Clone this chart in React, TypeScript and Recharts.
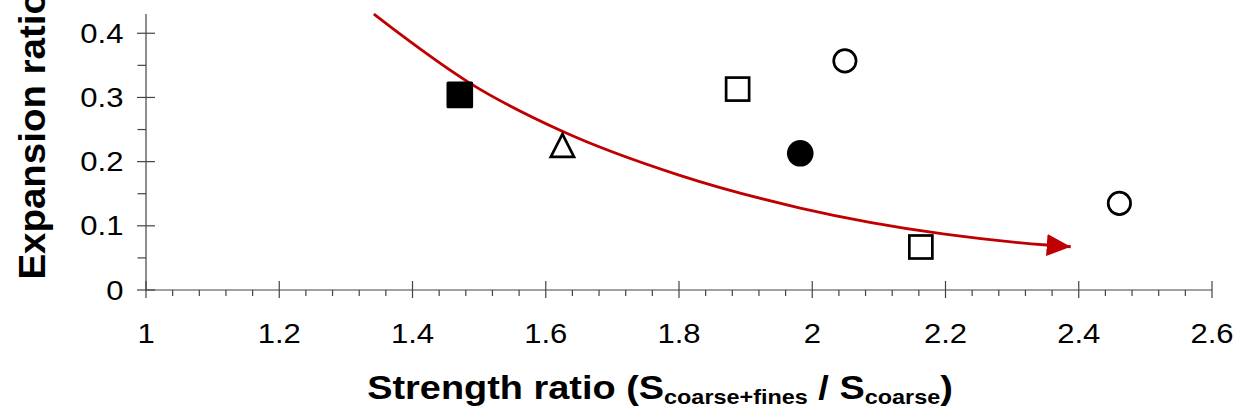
import React from "react";
import { ComposedChart, Scatter, Line, XAxis, YAxis } from "recharts";

// Scatter points
const pointX = [1.471, 1.625, 1.888, 1.982, 2.049, 2.163, 2.461];
const pointY = [0.304, 0.225, 0.313, 0.213, 0.357, 0.067, 0.135];
const pointShape = [
  "squareFilled",
  "triangleOpen",
  "squareOpen",
  "circleFilled",
  "circleOpen",
  "squareOpen",
  "circleOpen",
];

// Red trend curve
const curveX = [1.342, 1.381, 1.486, 1.624, 1.8, 1.982, 2.199, 2.352, 2.388];
const curveY = [0.43, 0.399, 0.3224, 0.2477, 0.179, 0.1277, 0.087, 0.0701, 0.0674];

// Axis ticks
const xMajorTicks = [1, 1.2, 1.4, 1.6, 1.8, 2, 2.2, 2.4, 2.6];
const xTickLabels = ["1", "1.2", "1.4", "1.6", "1.8", "2", "2.2", "2.4", "2.6"];
const xMinorTicks = [
  1.04, 1.08, 1.12, 1.16, 1.24, 1.28, 1.32, 1.36, 1.44, 1.48, 1.52, 1.56,
  1.64, 1.68, 1.72, 1.76, 1.84, 1.88, 1.92, 1.96, 2.04, 2.08, 2.12, 2.16,
  2.24, 2.28, 2.32, 2.36, 2.44, 2.48, 2.52, 2.56,
];
const yMajorTicks = [0, 0.1, 0.2, 0.3, 0.4];
const yTickLabels = ["0", "0.1", "0.2", "0.3", "0.4"];
const yMinorTicks = [0.05, 0.15, 0.25, 0.35];

const scatterData = pointX.map((x, i) => ({ x, y: pointY[i], kind: pointShape[i] }));
const curveData = curveX.map((x, i) => ({ x, y: curveY[i] }));

const FONT = "'Liberation Sans', Arial, Helvetica, sans-serif";
const AXIS_COLOR = "#444";
const RED = "#c00000";

const findIdx = (arr: number[], v: number) => arr.findIndex((t) => Math.abs(t - v) < 1e-6);

const XTick = (props: any) => {
  const { x, y, payload } = props;
  const idx = findIdx(xMajorTicks, payload.value);
  if (idx < 0) {
    return <line x1={x} x2={x} y1={y} y2={y + 6} stroke={AXIS_COLOR} strokeWidth={1.2} />;
  }
  return (
    <g>
      <line x1={x} x2={x} y1={y - 9} y2={y + 8} stroke={AXIS_COLOR} strokeWidth={1.2} />
      <text
        transform={`translate(${x},${y + 52.5}) scale(1.15,1)`}
        textAnchor="middle"
        fontSize={27}
        fontFamily={FONT}
        fill="#000"
      >
        {xTickLabels[idx]}
      </text>
    </g>
  );
};

const YTick = (props: any) => {
  const { x, y, payload } = props;
  const idx = findIdx(yMajorTicks, payload.value);
  if (idx < 0) {
    return <line x1={x - 8.5} x2={x} y1={y} y2={y} stroke={AXIS_COLOR} strokeWidth={1.2} />;
  }
  return (
    <g>
      <line x1={x - 9} x2={x + 9} y1={y} y2={y} stroke={AXIS_COLOR} strokeWidth={1.2} />
      <text
        transform={`translate(${x - 22.5},${y + 9.5}) scale(1.15,1)`}
        textAnchor="end"
        fontSize={27}
        fontFamily={FONT}
        fill="#000"
      >
        {yTickLabels[idx]}
      </text>
    </g>
  );
};

const MarkerShape = (props: any) => {
  const { cx, cy, payload } = props;
  const kind = payload.kind;
  const sw = 2.7;
  if (kind === "squareFilled") {
    return <rect x={cx - 13.3} y={cy - 13.3} width={26.6} height={26.6} rx={1.5} fill="#000" />;
  }
  if (kind === "squareOpen") {
    return (
      <rect x={cx - 11.5} y={cy - 11.5} width={23} height={23} fill="#fff" stroke="#000" strokeWidth={sw} />
    );
  }
  if (kind === "circleFilled") {
    return <circle cx={cx} cy={cy} r={13.3} fill="#000" />;
  }
  if (kind === "circleOpen") {
    return <circle cx={cx} cy={cy} r={11.2} fill="#fff" stroke="#000" strokeWidth={sw} />;
  }
  // open triangle
  return (
    <polygon
      points={`${cx},${cy - 11.5} ${cx - 11.6},${cy + 11.2} ${cx + 11.6},${cy + 11.2}`}
      fill="#fff"
      stroke="#000"
      strokeWidth={sw}
    />
  );
};

const XLabel = (props: any) => {
  const { viewBox } = props;
  const cx = viewBox.x + viewBox.width / 2 - 19;
  const y = viewBox.y + 108.5;
  return (
    <text
      transform={`translate(${cx},${y}) scale(1.115,1)`}
      textAnchor="middle"
      fontFamily={FONT}
      fontWeight="bold"
      fontSize={34}
      fill="#000"
    >
      Strength ratio (S
      <tspan fontSize={21} dy={5}>coarse+fines</tspan>
      <tspan dy={-5}> / S</tspan>
      <tspan fontSize={21} dy={5}>coarse</tspan>
      <tspan dy={-5}>)</tspan>
    </text>
  );
};

const YLabel = (props: any) => {
  const { viewBox } = props;
  const x = viewBox.x + 45;
  const y = viewBox.y + viewBox.height - 10.4;
  return (
    <text
      transform={`translate(${x},${y}) rotate(-90) scale(1.04,1)`}
      textAnchor="start"
      fontFamily={FONT}
      fontWeight="bold"
      fontSize={37}
      fill="#000"
    >
      Expansion ratio
    </text>
  );
};

export default function App() {
  return (
    <div style={{ position: "absolute", left: 0, top: 0, background: "#fff" }}>
      <ComposedChart
        width={1239}
        height={416}
        margin={{ top: 14, right: 27, left: 0, bottom: 0 }}
        style={{ background: "#fff" }}
      >
        <defs>
          <marker
            id="redArrow"
            viewBox="0 0 24 22"
            refX={24}
            refY={11}
            markerWidth={24}
            markerHeight={22}
            markerUnits="userSpaceOnUse"
            orient="auto"
          >
            <path d="M0,0 L24,11 L0,22 Z" fill={RED} />
          </marker>
        </defs>
        <XAxis
          dataKey="x"
          type="number"
          domain={[1, 2.6]}
          ticks={[...xMajorTicks, ...xMinorTicks]}
          interval={0}
          height={126}
          tickSize={0}
          tickMargin={0}
          tickLine={false}
          axisLine={{ stroke: AXIS_COLOR, strokeWidth: 1.2 }}
          tick={<XTick />}
          label={<XLabel />}
        />
        <YAxis
          dataKey="y"
          type="number"
          domain={[0, 0.43]}
          ticks={[...yMajorTicks, ...yMinorTicks]}
          interval={0}
          width={146}
          tickSize={0}
          tickMargin={0}
          tickLine={false}
          axisLine={{ stroke: AXIS_COLOR, strokeWidth: 1.2 }}
          tick={<YTick />}
          label={<YLabel />}
        />
        <Scatter data={scatterData} dataKey="y" shape={<MarkerShape />} isAnimationActive={false} />
        <Line
          data={curveData}
          dataKey="y"
          type="monotone"
          stroke={RED}
          strokeWidth={2.8}
          dot={false}
          activeDot={false}
          markerEnd="url(#redArrow)"
          isAnimationActive={false}
        />
      </ComposedChart>
    </div>
  );
}
